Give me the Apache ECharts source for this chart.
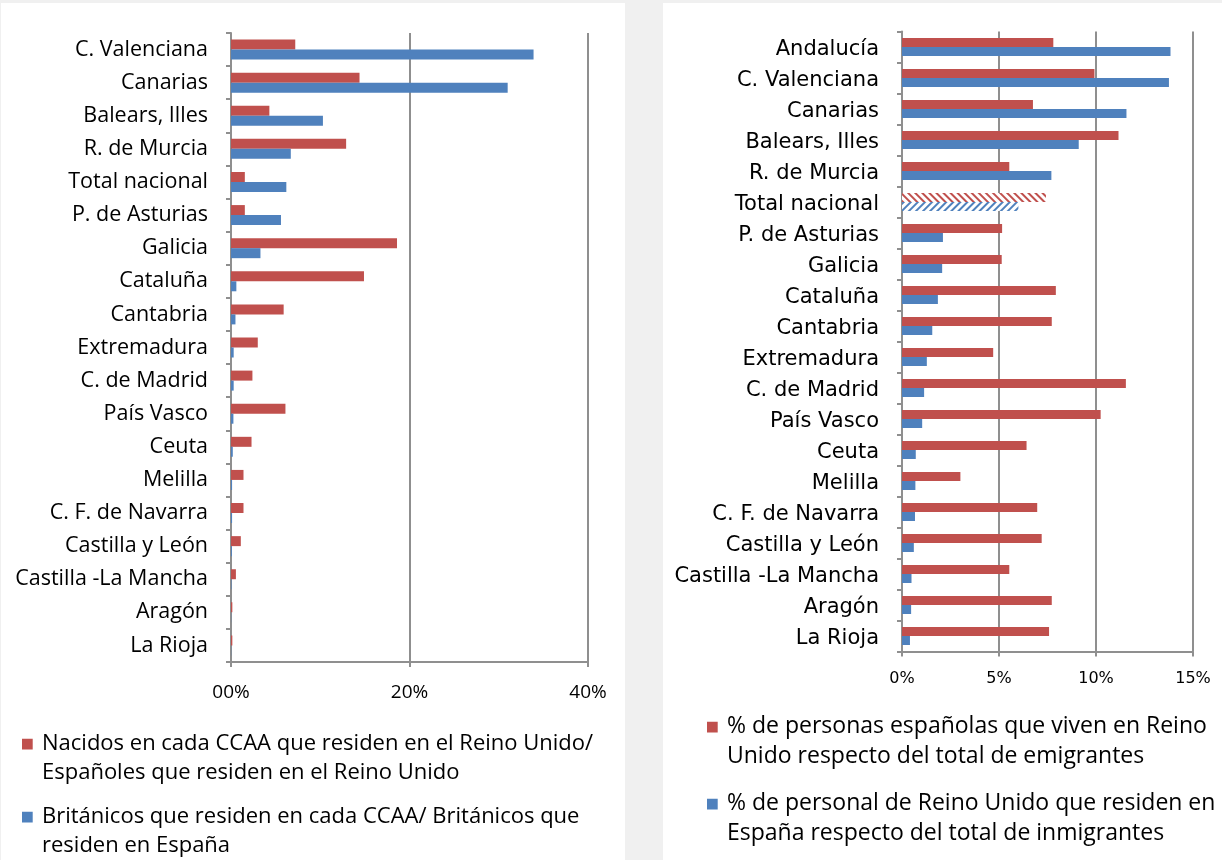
<!DOCTYPE html>
<html>
<head>
<meta charset="utf-8">
<script src="https://cdn.jsdelivr.net/npm/echarts@6/dist/echarts.min.js"></script>
<style>
  html, body { margin: 0; padding: 0; background: #f0f0f0; }
  #left { position: absolute; left: 1px; top: 3px; width: 624px; height: 857px; background: #fff; }
  #right { position: absolute; left: 663px; top: 3px; width: 559px; height: 857px; background: #fff; }
</style>
</head>
<body>
<div id="left"></div>
<div id="right"></div>
<script>
// datos panel izquierdo
var catsLeft = ['C. Valenciana', 'Canarias', 'Balears, Illes', 'R. de Murcia', 'Total nacional', 'P. de Asturias',
  'Galicia', 'Cataluña', 'Cantabria', 'Extremadura', 'C. de Madrid', 'País Vasco', 'Ceuta', 'Melilla',
  'C. F. de Navarra', 'Castilla y León', 'Castilla -La Mancha', 'Aragón', 'La Rioja'];
var nacidosUK = [7.2, 14.4, 4.3, 12.9, 1.55, 1.55, 18.6, 14.9, 5.9, 3.0, 2.4, 6.1, 2.3, 1.4, 1.4, 1.1, 0.55, 0.15, 0.15];
var britanicosCCAA = [33.9, 31.0, 10.3, 6.7, 6.2, 5.6, 3.3, 0.6, 0.5, 0.3, 0.3, 0.27, 0.2, 0.12, 0.12, 0.1, 0.05, 0.02, 0.02];
var ticksLeft = [0, 20, 40];
var legendLeft = ['Nacidos en cada CCAA que residen en el Reino Unido/\nEspañoles que residen en el Reino Unido',
  'Británicos que residen en cada CCAA/ Británicos que\nresiden en España'];

// datos panel derecho
var catsRight = ['Andalucía', 'C. Valenciana', 'Canarias', 'Balears, Illes', 'R. de Murcia', 'Total nacional',
  'P. de Asturias', 'Galicia', 'Cataluña', 'Cantabria', 'Extremadura', 'C. de Madrid', 'País Vasco', 'Ceuta',
  'Melilla', 'C. F. de Navarra', 'Castilla y León', 'Castilla -La Mancha', 'Aragón', 'La Rioja'];
var espanolesUK = [7.8, 9.92, 6.75, 11.16, 5.53, 7.42, 5.16, 5.14, 7.93, 7.72, 4.7, 11.54, 10.24, 6.42, 3.01, 6.97, 7.2, 5.53, 7.72, 7.58];
var britanicosES = [13.84, 13.76, 11.57, 9.11, 7.7, 6.0, 2.11, 2.07, 1.85, 1.56, 1.28, 1.14, 1.04, 0.71, 0.69, 0.67, 0.61, 0.49, 0.47, 0.41];
var ticksRight = [0, 5, 10, 15];
var legendRight = ['% de personas españolas que viven en Reino\nUnido respecto del total de emigrantes',
  '% de personal de Reino Unido que residen en\nEspaña respecto del total de inmigrantes'];

var ROJO = '#C0504D';
var AZUL = '#4F81BD';
var GRIS = '#8f8f8f';
var FUENTE_IZQ = '"Open Sans", Lato, sans-serif';
var FUENTE_DER = '"DejaVu Sans", sans-serif';

// icono de leyenda: cuadrado arriba, punto invisible abajo para alinearlo con la primera linea
function iconoLeyenda(alto) {
  return 'path://M0,0h10v10h-10z M14,' + alto + 'h0.01v0.01h-0.01z';
}

function ejeValores(max, ticks, fmt, fontSize, fuente, margen) {
  return {
    type: 'value', min: 0, max: max, interval: ticks[1] - ticks[0],
    axisLine: { show: true, lineStyle: { color: GRIS, width: 2 } },
    axisTick: { show: true, length: 5, lineStyle: { color: GRIS, width: 2 } },
    splitLine: { show: true, lineStyle: { color: GRIS, width: 2 } },
    axisLabel: { formatter: fmt, color: '#000', fontSize: fontSize, fontFamily: fuente, margin: margen }
  };
}

// desplaza = px que baja la etiqueta respecto del centro de la categoria
function ejeCategorias(cats, fontSize, fuente, desplaza) {
  return {
    type: 'category', data: cats, inverse: true,
    axisLine: { show: true, lineStyle: { color: GRIS, width: 2 } },
    axisTick: { show: true, length: 5, lineStyle: { color: GRIS, width: 2 } },
    axisLabel: {
      color: '#000', fontSize: fontSize, fontFamily: fuente, margin: 23,
      formatter: function (v) { return '{t|' + v + '}'; },
      rich: { t: { fontSize: fontSize, fontFamily: fuente, color: '#000', padding: [desplaza * 2, 0, 0, 0] } }
    }
  };
}

// patron rayado para "Total nacional" del panel derecho
function rayado(color, rot) {
  return {
    color: '#fff',
    decal: { symbol: 'rect', symbolSize: 1, color: color, dashArrayX: [1, 0], dashArrayY: [2, 3], rotation: rot }
  };
}

function datosSerie(valores, cats, color, rot, conRayado) {
  return valores.map(function (v, i) {
    if (conRayado && cats[i] == 'Total nacional') {
      return { value: v, itemStyle: rayado(color, rot) };
    }
    return v;
  });
}

var izq = echarts.init(document.getElementById('left'));
izq.setOption({
  animation: false,
  grid: { left: 230, right: 37, top: 30, bottom: 198 },
  xAxis: ejeValores(40, ticksLeft, function (v) { return (v < 10 ? '0' : '') + v + '%'; }, 19, FUENTE_IZQ, 21),
  yAxis: ejeCategorias(catsLeft, 21.5, FUENTE_IZQ, 0),
  legend: {
    orient: 'vertical', left: 21, top: 726, itemGap: 15, padding: 0,
    itemWidth: 15, itemHeight: 40, icon: iconoLeyenda(36),
    data: [legendLeft[0], legendLeft[1]],
    textStyle: { fontSize: 22, lineHeight: 29, fontFamily: FUENTE_IZQ, color: '#000' }
  },
  series: [
    { name: legendLeft[0], type: 'bar', data: nacidosUK, barWidth: 10, barGap: '0%', itemStyle: { color: ROJO } },
    { name: legendLeft[1], type: 'bar', data: britanicosCCAA, barWidth: 10, barGap: '0%', itemStyle: { color: AZUL } }
  ]
});

var der = echarts.init(document.getElementById('right'));
der.setOption({
  animation: false,
  grid: { left: 239, right: 29, top: 28.5, bottom: 208.5 },
  xAxis: ejeValores(15, ticksRight, function (v) { return v + '%'; }, 16, FUENTE_DER, 19),
  yAxis: ejeCategorias(catsRight, 21, FUENTE_DER, 3),
  legend: {
    orient: 'vertical', left: 44, top: 708, itemGap: 17, padding: 0,
    itemWidth: 15, itemHeight: 40, icon: iconoLeyenda(36),
    data: [legendRight[0], legendRight[1]],
    textStyle: { fontSize: 23, lineHeight: 30, fontFamily: FUENTE_IZQ, color: '#000' }
  },
  series: [
    { name: legendRight[0], type: 'bar', data: datosSerie(espanolesUK, catsRight, ROJO, Math.PI / 4, true),
      barWidth: 9, barGap: '0%', itemStyle: { color: ROJO } },
    { name: legendRight[1], type: 'bar', data: datosSerie(britanicosES, catsRight, AZUL, -Math.PI / 4, true),
      barWidth: 9, barGap: '0%', itemStyle: { color: AZUL } }
  ]
});
</script>
</body>
</html>
